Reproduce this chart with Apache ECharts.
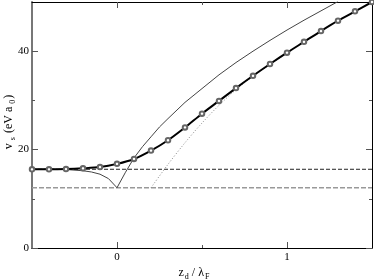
<!DOCTYPE html>
<html><head><meta charset="utf-8">
<script src="https://cdn.jsdelivr.net/npm/echarts@6/dist/echarts.min.js"></script>
<style>html,body{margin:0;padding:0;background:#fff}#c{width:374px;height:280px}</style>
</head><body><div id="c"></div>
<script>
// ---- data ----
const xRange = [-0.5, 1.5];
const yRange = [0, 50];
const xMajorTicks = [0, 1];
const xMinorTicks = [0.5];
const yMajorTicks = [0, 20, 40];
const yMinorTicks = [10, 30];

// thick line with circles
const fitX = [-0.5, -0.4, -0.3, -0.2, -0.1, 0, 0.1, 0.2, 0.3, 0.4, 0.5, 0.6, 0.7, 0.8, 0.9, 1.0, 1.1, 1.2, 1.3, 1.4, 1.5];
const fitY = [16.0, 16.0, 16.05, 16.2, 16.45, 17.1, 18.1, 19.8, 21.9, 24.5, 27.3, 29.9, 32.5, 35.0, 37.4, 39.7, 41.9, 44.1, 46.2, 48.1, 50.0];

// thin solid line with cusp
const thinX = [-0.5, -0.4, -0.3, -0.2, -0.15, -0.1, -0.05, 0, 0.05, 0.1, 0.15, 0.2, 0.25, 0.3, 0.4, 0.5, 0.6, 0.7, 0.8, 0.9, 1.0, 1.1, 1.2, 1.3];
const thinY = [16.0, 16.0, 15.95, 15.7, 15.45, 15.0, 14.1, 12.25, 15.4, 18.3, 20.6, 22.6, 24.6, 26.3, 29.6, 32.4, 35.2, 37.7, 40.0, 42.2, 44.3, 46.3, 48.2, 50.1];

// dotted line
const dotX = [0.2, 0.3, 0.4, 0.5, 0.6, 0.7, 0.8, 0.9, 1.0];
const dotY = [12.25, 17.0, 21.4, 25.4, 29.0, 32.2, 34.9, 37.3, 39.6];

// horizontal reference levels
const levelHigh = 16.0;
const levelLow = 12.25;

// axis titles
const xTitle = '{m|z}{s|d}{m| / λ}{s|F}';
const yTitle = '{m|v}{s|s}{m| (eV a}{s|0}{m|)}';

const zip = (xs, ys) => xs.map((x, i) => [x, ys[i]]);
const FONT = 'Liberation Serif';

function xAxisDef(pos, ticks, len, withLabels, lineColor, lineWidth) {
  return {
    type: 'value', position: pos, min: xRange[0], max: xRange[1],
    axisLine: { show: !!lineColor, onZero: false, lineStyle: { color: lineColor || '#000', width: lineWidth || 1 } },
    axisTick: { show: true, inside: true, length: len, customValues: ticks, lineStyle: { color: '#555', width: 1 } },
    axisLabel: withLabels ? { show: true, customValues: ticks, margin: 4, fontFamily: FONT, fontSize: 11, color: '#000',
      hideOverlap: false, formatter: v => String(Math.round(v)) } : { show: false },
    splitLine: { show: false }
  };
}
function yAxisDef(pos, ticks, len, withLabels, lineColor, lineWidth) {
  return {
    type: 'value', position: pos, min: yRange[0], max: yRange[1],
    axisLine: { show: !!lineColor, onZero: false, lineStyle: { color: lineColor || '#000', width: lineWidth || 1 } },
    axisTick: { show: true, inside: true, length: len, customValues: ticks, lineStyle: { color: '#555', width: 1 } },
    axisLabel: withLabels ? { show: true, customValues: ticks, margin: 3, fontFamily: FONT, fontSize: 11, color: '#000',
      hideOverlap: false, formatter: v => String(Math.round(v)) } : { show: false },
    splitLine: { show: false }
  };
}

const xs = [
  xAxisDef('bottom', xMajorTicks, 6, true, '#000', 1.2),
  xAxisDef('bottom', xMinorTicks, 3, false, null),
  xAxisDef('top', xMajorTicks, 6, false, '#000', 1),
  xAxisDef('top', xMinorTicks, 3, false, null)
];
xs[0].name = xTitle;
xs[0].nameLocation = 'middle';
xs[0].nameGap = 17;
xs[0].nameMoveOverlap = false;
xs[0].nameTextStyle = {
  fontFamily: FONT, fontSize: 12, color: '#000', padding: [0, 16, 0, 0],
  rich: {
    m: { fontFamily: FONT, fontSize: 12, color: '#000' },
    s: { fontFamily: FONT, fontSize: 8, color: '#000', padding: [8, 0, 0, 1] }
  }
};

const ys = [
  yAxisDef('left', yMajorTicks, 6, true, '#777', 2),
  yAxisDef('left', yMinorTicks, 3, false, null),
  yAxisDef('right', yMajorTicks, 6, false, '#000', 1),
  yAxisDef('right', yMinorTicks, 3, false, null)
];

const option = {
  animation: false,
  backgroundColor: '#fff',
  grid: { left: 32, right: 2, top: 2, bottom: 32, containLabel: false, outerBoundsMode: 'none' },
  xAxis: xs,
  yAxis: ys,
  graphic: [{
    type: 'text', x: 9, y: 122, rotation: Math.PI / 2, silent: true,
    style: {
      text: yTitle, align: 'center', verticalAlign: 'middle',
      fontFamily: FONT, fontSize: 12, fill: '#000',
      rich: {
        m: { fontFamily: FONT, fontSize: 12, fill: '#000' },
        s: { fontFamily: FONT, fontSize: 8, fill: '#000', padding: [8, 1, 0, 3] }
      }
    }
  }],
  series: [
    { type: 'line', name: 'high', data: [[xRange[0], levelHigh], [xRange[1], levelHigh]], showSymbol: false, symbol: 'none',
      lineStyle: { color: '#222', width: 1, type: [4, 2] }, z: 1 },
    { type: 'line', name: 'low', data: [[xRange[0], levelLow], [xRange[1], levelLow]], showSymbol: false, symbol: 'none',
      lineStyle: { color: '#999', width: 1.6, type: [5, 2] }, z: 1 },
    { type: 'line', name: 'dotted', data: zip(dotX, dotY), symbol: 'none', smooth: 0.3,
      lineStyle: { color: '#888', width: 1, type: [1, 2] }, z: 2 },
    { type: 'line', name: 'thin', data: zip(thinX, thinY), symbol: 'none', smooth: false,
      lineStyle: { color: '#444', width: 1 }, z: 3 },
    { type: 'line', name: 'fit', data: zip(fitX, fitY), smooth: 0.3, symbol: 'emptyCircle', symbolSize: 4.5,
      itemStyle: { color: '#666', borderWidth: 0.8 },
      lineStyle: { color: '#000', width: 2 }, z: 4 }
  ]
};
const chart = echarts.init(document.getElementById('c'), null, { renderer: 'canvas' });
chart.setOption(option);
</script>
</body></html>
